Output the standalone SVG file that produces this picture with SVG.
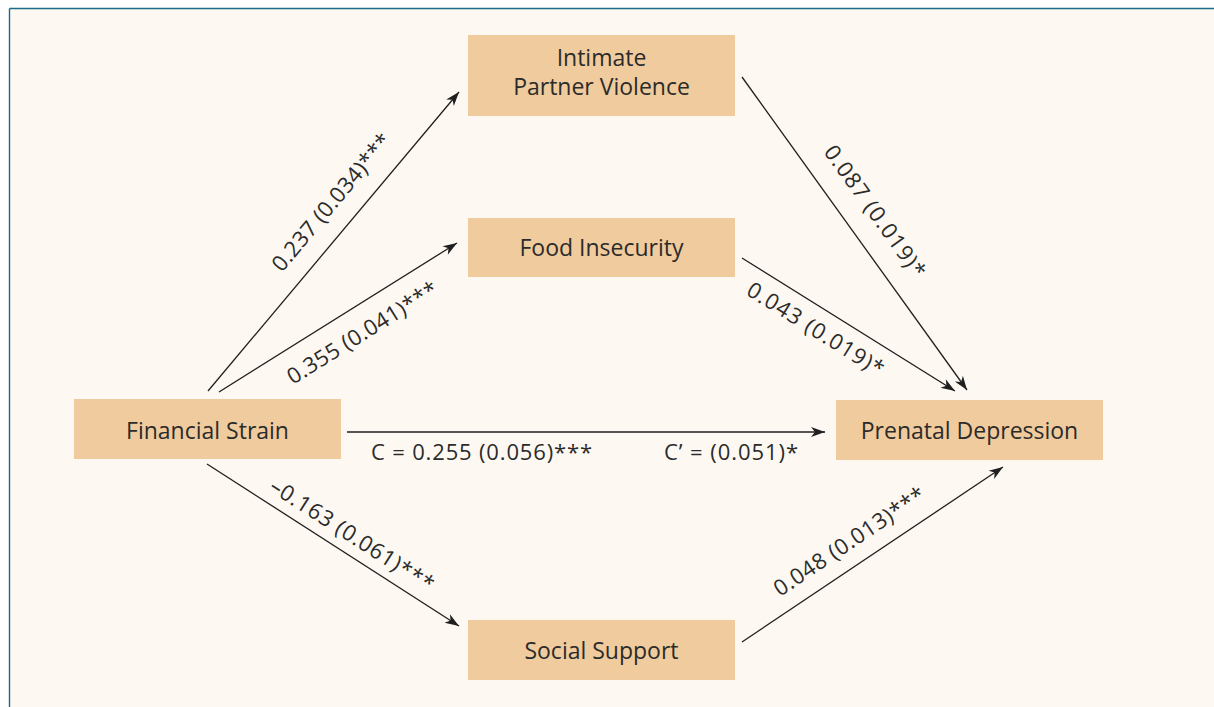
<svg xmlns="http://www.w3.org/2000/svg" width="1214" height="707" viewBox="0 0 1214 707">
  <style>
    .box { fill: #f0cb9d; }
    .node-label { font-family: "Open Sans", "Noto Sans", sans-serif; font-size: 23px; fill: #2b2b2b; text-anchor: middle; }
    .edge { stroke: #1f1f1f; stroke-width: 1.3; fill: none; marker-end: url(#arrow); }
    .edge-label { font-family: "Open Sans", "Noto Sans", sans-serif; font-size: 22px; fill: #2b2b2b; }
  </style>
  <defs>
    <marker id="arrow" markerUnits="userSpaceOnUse" viewBox="-15 -6 16 12" refX="0" refY="0" markerWidth="16" markerHeight="12" orient="auto">
      <path d="M0,0 L-14,-5 L-10,0 L-14,5 Z" fill="#1f1f1f"/>
    </marker>
  </defs>

  <!-- page background with framing rules -->
  <rect x="0" y="0" width="1214" height="707" fill="#ffffff"/>
  <rect x="10" y="9" width="1204" height="698" fill="#fdf9f2"/>
  <line x1="9.5" y1="8.5" x2="1214" y2="8.5" stroke="#1b6a8c" stroke-width="1.4"/>
  <line x1="9.5" y1="8.5" x2="9.5" y2="707" stroke="#1b6a8c" stroke-width="1.4"/>

  <g id="node-ipv">
    <rect class="box" x="468" y="35" width="267" height="81"/>
    <text class="node-label" x="601.5" y="66">Intimate</text>
    <text class="node-label" x="601.5" y="95">Partner Violence</text>
  </g>
  <g id="node-food">
    <rect class="box" x="468" y="218" width="267" height="59"/>
    <text class="node-label" x="601.5" y="256">Food Insecurity</text>
  </g>
  <g id="node-financial">
    <rect class="box" x="74" y="399" width="267" height="60"/>
    <text class="node-label" x="207.5" y="439">Financial Strain</text>
  </g>
  <g id="node-depression">
    <rect class="box" x="836" y="400" width="267" height="60"/>
    <text class="node-label" x="969.5" y="439">Prenatal Depression</text>
  </g>
  <g id="node-support">
    <rect class="box" x="468" y="620" width="267" height="60"/>
    <text class="node-label" x="601.5" y="659">Social Support</text>
  </g>

  <g id="connectors">
    <line class="edge" x1="208" y1="391" x2="459" y2="92"/>
    <line class="edge" x1="219" y1="392" x2="457" y2="243"/>
    <line class="edge" x1="742" y1="77" x2="967" y2="390"/>
    <line class="edge" x1="742" y1="258" x2="955" y2="391"/>
    <line class="edge" x1="347" y1="432" x2="825" y2="432"/>
    <line class="edge" x1="207" y1="464" x2="459" y2="626"/>
    <line class="edge" x1="742" y1="642" x2="1003" y2="467"/>

    <text class="edge-label" transform="translate(282 273) rotate(-50)" textLength="172" lengthAdjust="spacing">0.237 (0.034)***</text>
    <text class="edge-label" transform="translate(293 385) rotate(-32)" textLength="173" lengthAdjust="spacing">0.355 (0.041)***</text>
    <text class="edge-label" transform="translate(823 152) rotate(54.3)" textLength="157" lengthAdjust="spacing">0.087 (0.019)*</text>
    <text class="edge-label" transform="translate(745 294) rotate(32)" textLength="157" lengthAdjust="spacing">0.043 (0.019)*</text>
    <text class="edge-label" transform="translate(268 490) rotate(32.7)" textLength="190" lengthAdjust="spacing">–0.163 (0.061)***</text>
    <text class="edge-label" transform="translate(780 597) rotate(-33.8)" textLength="177" lengthAdjust="spacing">0.048 (0.013)***</text>
    <text class="edge-label" x="371" y="460" textLength="221" lengthAdjust="spacing">C = 0.255 (0.056)***</text>
    <text class="edge-label" x="664" y="460" textLength="134" lengthAdjust="spacing">C’ = (0.051)*</text>
  </g>
</svg>
